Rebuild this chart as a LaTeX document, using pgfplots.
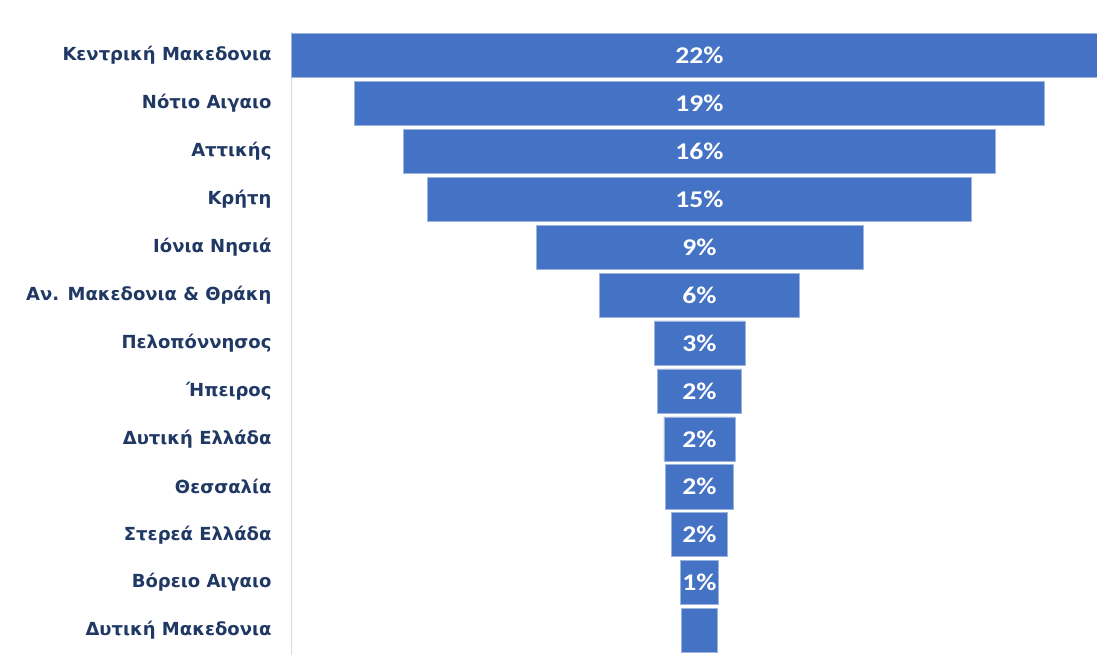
\documentclass[border=0pt]{standalone}
\usepackage{fontspec}
\setmainfont{DejaVu Sans}
\newfontfamily\catfont{DejaVu Sans}
\newfontfamily\valfont[FakeStretch=1.15]{Carlito}
\usepackage{pgfplots}
\usepackage{pgfplotstable}
\pgfplotsset{compat=1.18}
\definecolor{barblue}{HTML}{4472C4}
\definecolor{baredge}{HTML}{9DB4E0}
\definecolor{navy}{HTML}{1F3864}
\definecolor{axisgray}{HTML}{D9D9D9}

% pos, offset (left invisible part), value (visible width, in %), label
\pgfplotstableread{
pos offset value label
0  0.00   22.50 22\%
1  1.75   19.00 19\%
2  3.10   16.30 16\%
3  3.75   15.00 15\%
4  6.75   9.00  9\%
5  8.50   5.50  6\%
6  10.00  2.50  3\%
7  10.09  2.32  2\%
8  10.27  1.97  2\%
9  10.31  1.87  2\%
10 10.47  1.56  2\%
11 10.72  1.06  1\%
12 10.75  0.99  {}
}\funneldata

\begin{document}
\begin{tikzpicture}
\useasboundingbox (0,0) rectangle (1097pt,657pt);
\begin{axis}[
  at={(291pt,2.5pt)}, anchor=south west,
  scale only axis,
  width=806pt, height=623pt,
  xmin=0, xmax=22.2,
  ymin=-0.5, ymax=12.5,
  y dir=reverse,
  axis x line=none,
  axis y line*=left,
  y axis line style={draw=axisgray, line width=1pt, -},
  ytick={0,...,12},
  yticklabels={
    Κεντρική Μακεδονια,
    Νότιο Αιγαιο,
    Αττικής,
    Κρήτη,
    Ιόνια Νησιά,
    Αν. Μακεδονια \& Θράκη,
    Πελοπόννησος,
    Ήπειρος,
    Δυτική Ελλάδα,
    Θεσσαλία,
    Στερεά Ελλάδα,
    Βόρειο Αιγαιο,
    Δυτική Μακεδονια},
  major tick length=0pt,
  yticklabel style={font=\catfont\bfseries\fontsize{18}{21}\selectfont, text=navy, xshift=-16pt},
  xbar stacked,
  bar width=0.92,
  clip=true,
]
\addplot[draw=none, fill=none] table[x=offset, y=pos] {\funneldata};
\addplot[fill=barblue, draw=baredge, line width=0.6pt] table[x=value, y=pos] {\funneldata};
\end{axis}
\begin{axis}[
  at={(291pt,2.5pt)}, anchor=south west,
  scale only axis,
  width=806pt, height=623pt,
  xmin=0, xmax=22.2,
  ymin=-0.5, ymax=12.5,
  y dir=reverse,
  hide axis,
  point meta=explicit symbolic,
  nodes near coords,
  nodes near coords style={anchor=center, font=\valfont\bfseries\fontsize{24}{27}\selectfont, text=white},
]
\addplot[only marks, mark=none] table[x expr=11.25, y=pos, meta=label] {\funneldata};
\end{axis}
\end{tikzpicture}
\end{document}
